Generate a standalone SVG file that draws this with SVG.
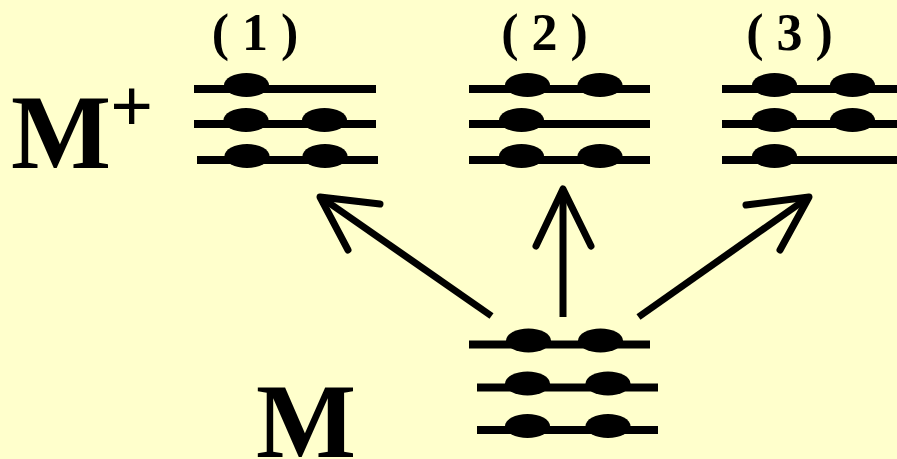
<svg xmlns="http://www.w3.org/2000/svg" width="897" height="459" viewBox="0 0 897 459">
  <style>
    .lvl { stroke: #000; stroke-width: 8; fill: none; }
    .el { fill: #000; }
    .big { font-family: "Liberation Serif", "Times New Roman", serif; font-weight: bold; fill: #000; }
    .lab { font-family: "Liberation Serif", "Times New Roman", serif; font-weight: bold; font-size: 52px; fill: #000; text-anchor: middle; }
    .shaft { stroke: #000; stroke-width: 7; fill: none; stroke-linecap: butt; }
    .head { stroke: #000; stroke-width: 7; fill: none; stroke-linecap: round; stroke-linejoin: round; }
  </style>
  <defs>
    <ellipse id="e" cx="0" cy="0" rx="22.5" ry="12" class="el"/>
  </defs>
  <rect x="0" y="0" width="897" height="459" fill="#FFFFCC"/>

  <g id="label-Mplus">
    <text class="big" x="11" y="168" font-size="106">M</text>
    <text class="big" x="110" y="132" font-size="76">+</text>
  </g>
  <g id="label-M">
    <text class="big" x="256" y="457" font-size="106">M</text>
  </g>

  <g id="state-1">
    <text class="lab" x="255" y="50">( 1 )</text>
    <line class="lvl" x1="194" y1="89" x2="376" y2="89"/>
    <line class="lvl" x1="194" y1="124" x2="376" y2="124"/>
    <line class="lvl" x1="197" y1="160" x2="378" y2="160"/>
    <use href="#e" x="246.5" y="85"/>
    <use href="#e" x="246" y="120"/>
    <use href="#e" x="324.5" y="120"/>
    <use href="#e" x="247" y="156"/>
    <use href="#e" x="325" y="156"/>
  </g>

  <g id="state-2">
    <text class="lab" x="544.5" y="50">( 2 )</text>
    <line class="lvl" x1="469" y1="89" x2="650" y2="89"/>
    <line class="lvl" x1="469" y1="124" x2="650" y2="124"/>
    <line class="lvl" x1="469" y1="160" x2="650" y2="160"/>
    <use href="#e" x="527.5" y="85"/>
    <use href="#e" x="600" y="85"/>
    <use href="#e" x="521.5" y="120"/>
    <use href="#e" x="521.5" y="156"/>
    <use href="#e" x="600" y="156"/>
  </g>

  <g id="state-3">
    <text class="lab" x="789.5" y="50">( 3 )</text>
    <line class="lvl" x1="722" y1="89" x2="900" y2="89"/>
    <line class="lvl" x1="722" y1="124" x2="900" y2="124"/>
    <line class="lvl" x1="722" y1="160" x2="900" y2="160"/>
    <use href="#e" x="774.5" y="85"/>
    <use href="#e" x="852.5" y="85"/>
    <use href="#e" x="774.5" y="120"/>
    <use href="#e" x="852.5" y="120"/>
    <use href="#e" x="774.5" y="156"/>
  </g>

  <g id="state-M">
    <line class="lvl" x1="469" y1="344.5" x2="650" y2="344.5"/>
    <line class="lvl" x1="477" y1="387.5" x2="658" y2="387.5"/>
    <line class="lvl" x1="477" y1="430" x2="658" y2="430"/>
    <use href="#e" x="528.5" y="340.5"/>
    <use href="#e" x="600.5" y="340.5"/>
    <use href="#e" x="527.5" y="383.5"/>
    <use href="#e" x="608" y="383.5"/>
    <use href="#e" x="527.5" y="426"/>
    <use href="#e" x="608" y="426"/>
  </g>

  <g id="connectors">
    <line class="shaft" x1="491.5" y1="316" x2="322" y2="198"/>
    <polyline class="head" points="380,204 320,197 348,250"/>
    <line class="shaft" x1="563" y1="317" x2="563" y2="192"/>
    <polyline class="head" points="536,246 563,189 591,246"/>
    <line class="shaft" x1="638.5" y1="317" x2="806" y2="199"/>
    <polyline class="head" points="746,205 809,197 780,250"/>
  </g>
</svg>
